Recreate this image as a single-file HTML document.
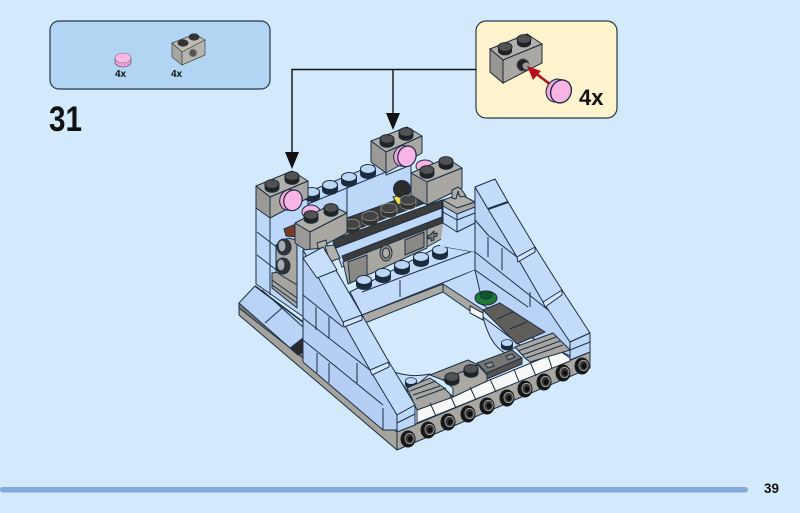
<!DOCTYPE html>
<html>
<head>
<meta charset="utf-8">
<style>
html,body{margin:0;padding:0;background:#d3eafc;}
svg{display:block;}
text{font-family:"Liberation Sans",sans-serif;font-weight:bold;fill:#111;}
</style>
</head>
<body>
<svg width="800" height="513" viewBox="0 0 800 513" xmlns="http://www.w3.org/2000/svg">
<defs>
<g id="sd"><path d="M-7,0v4a7,4.4 0 0 0 14,0v-4z" fill="#222"/><ellipse cx="0" cy="0" rx="7" ry="4.4" fill="#525252" stroke="#1b2530" stroke-width="1"/></g>
<g id="sb"><path d="M-7.5,0v5a7.5,4.5 0 0 0 15,0v-5z" fill="#1c2b3e"/><ellipse cx="0" cy="0" rx="7.5" ry="4.5" fill="#bcd6f6" stroke="#1c2b3e" stroke-width="1"/></g>
<g id="sg"><path d="M-8,0v5a8,4.8 0 0 0 16,0v-5z" fill="#333" stroke="#9a978f" stroke-width=".6"/><ellipse cx="0" cy="0" rx="8" ry="4.8" fill="#444" stroke="#a5a29a" stroke-width=".6"/></g>
<g id="sk"><ellipse cx="0" cy="0" rx="7.5" ry="8.5" fill="#161616"/><ellipse cx="1.5" cy="-.5" rx="4.6" ry="5.2" fill="#3a3a3a" stroke="#aaa" stroke-width=".8"/><ellipse cx="2" cy="0" rx="2.3" ry="2.8" fill="#0c0c0c"/></g>
<g id="pk"><ellipse cx="-3" cy="1" rx="9" ry="10.5" fill="#f3a6dc" stroke="#1c2b3e" stroke-width="1"/><ellipse cx="1" cy="0" rx="9" ry="10.5" fill="#f8b4e5" stroke="#1c2b3e" stroke-width="1.2"/></g>
</defs>
<rect width="800" height="513" fill="#d3eafc"/>

<!-- top-left parts box -->
<rect x="50" y="21" width="220" height="68" rx="9" fill="#b1d5f3" stroke="#26384b" stroke-width="1.2"/>
<path d="M115,58v4a8,5 0 0 0 16,0v-4z" fill="#ee9fd6" stroke="#444" stroke-width=".6"/>
<ellipse cx="123" cy="58" rx="8" ry="5" fill="#f9b8e5" stroke="#777" stroke-width=".6"/>
<path d="M172,43L195,34L205,40L182,52z" fill="#bdbbb6" stroke="#444" stroke-width=".7"/>
<path d="M172,43L182,52V65L172,57z" fill="#a6a5a0" stroke="#444" stroke-width=".7"/>
<path d="M182,52L205,40V55L182,65z" fill="#b5b3ae" stroke="#444" stroke-width=".7"/>
<ellipse cx="183" cy="43" rx="5.5" ry="3.6" fill="#333"/><ellipse cx="194" cy="37" rx="5.5" ry="3.6" fill="#333"/>
<circle cx="193" cy="53" r="3.6" fill="#555" stroke="#777"/>
<text x="115" y="77" font-size="10">4x</text>
<text x="171" y="77" font-size="10">4x</text>

<text x="49" y="131" font-size="35" textLength="33" lengthAdjust="spacingAndGlyphs">31</text>

<!-- callout -->
<rect x="476" y="21" width="141" height="97" rx="10" fill="#fff4cd" stroke="#28384a" stroke-width="1.2"/>
<path d="M490,49L527,34L542,44L503,60z" fill="#b1b0ac" stroke="#1f2a36"/>
<path d="M490,49L503,60V83L490,72z" fill="#979693" stroke="#1f2a36"/>
<path d="M503,60L542,44V63L503,83z" fill="#a8a7a3" stroke="#1f2a36"/>
<use href="#sd" transform="translate(505,47)"/><use href="#sd" transform="translate(524,39)"/>
<circle cx="523" cy="65" r="6" fill="#222" stroke="#555"/><circle cx="526" cy="66" r="3.5" fill="#999"/>
<path d="M551,85L534,72" stroke="#b50f1e" stroke-width="2.6"/>
<path d="M527,66L541,71L533,80z" fill="#b50f1e"/>
<use href="#pk" transform="translate(560,91) rotate(25) scale(1.12)"/>
<text x="579" y="105" font-size="22">4x</text>

<!-- arrows -->
<path d="M476,69.5H292V155M393,69.5V116" fill="none" stroke="#111" stroke-width="1.4"/>
<path d="M285,152h14l-7,17z" fill="#111"/>
<path d="M386,113h14l-7,17z" fill="#111"/>

<g stroke="#1c2f45" stroke-width="1" stroke-linejoin="round">
<!-- base strips -->
<path d="M239,303L397,432V450L239,315z" fill="#a5a39c"/>
<path d="M239,303L303,352L303,358L239,308z" fill="#77756f"/>
<path d="M397,432L590,352V368L397,450z" fill="#a8a7a1"/>

<!-- ramps left -->
<path d="M239,303L255,286L303,322V338L290,348z" fill="#b9d3f6"/>
<path d="M265,323L282,308M262,290L303,327" fill="none"/>
<path d="M291,349L303,338V352L298,355z" fill="#2a2a2a"/>

<!-- left wall -->
<path d="M256,205L308,198V320L256,284z" fill="#bcd7f7"/>
<path d="M257,232L296,262M257,255L296,285M270,218V295" fill="none"/>
<path d="M255,286L303,322" fill="none" stroke-width="1.6"/>
<!-- technic panel -->
<path d="M272,273L290,270L297,282V308L272,288z" fill="#a6a49e"/>
<path d="M272,280L297,298M272,285L297,303" fill="none"/>
<path d="M276,245L288,238L297,240V285L276,272z" fill="#a9a7a2"/>
<path d="M284,229L296,224L298,237L286,236z" fill="#7c3a24"/>
<ellipse cx="284" cy="247" rx="7" ry="8" fill="#333"/><ellipse cx="282" cy="246" rx="4" ry="6" fill="#aaa"/>
<ellipse cx="283" cy="266" rx="7" ry="8" fill="#333"/><ellipse cx="281" cy="265" rx="4" ry="6" fill="#aaa"/>

<!-- back wall -->
<path d="M308,192L386,160V175L411,165V200L347,225L308,205z" fill="#bcd7f8"/>
<path d="M347,187V215M308,204L386,172" fill="none"/>
<use href="#sb" transform="translate(312,192)"/><use href="#sb" transform="translate(330,185)"/>
<use href="#sb" transform="translate(349,177)"/><use href="#sb" transform="translate(368,169)"/>

<!-- pink hidden -->
<ellipse cx="311" cy="212" rx="9" ry="7" fill="#f8b4e5"/>
<ellipse cx="425" cy="166" rx="9" ry="6" fill="#f8b4e5"/>

<!-- brick 2 -->
<path d="M371,141L407,127L422,136L386,152z" fill="#b0afaa"/>
<path d="M371,141L386,152V173L371,162z" fill="#9a9995"/>
<path d="M386,152L422,136V153L386,173z" fill="#a8a7a2"/>
<use href="#sd" transform="translate(387,139)"/><use href="#sd" transform="translate(406,132)"/>
<use href="#pk" transform="translate(406,156) rotate(20)"/>

<!-- center dark plate -->
<path d="M347,218L410,195L425,203L347,233z" fill="#3c3c3c"/>
<path d="M393,197Q396,202 398,205L408,200L403,194z" fill="#f3e23e"/>
<circle cx="402" cy="189" r="8.5" fill="#2b2b2b"/>
<use href="#sg" transform="translate(352,224)"/><use href="#sg" transform="translate(370,216)"/>
<use href="#sg" transform="translate(389,208)"/><use href="#sg" transform="translate(408,200)"/>

<!-- brick 3 -->
<path d="M411,173L447,158L462,168L427,182z" fill="#b0afaa"/>
<path d="M411,173L427,182V205L411,195z" fill="#9a9995"/>
<path d="M427,182L462,168V188L427,205z" fill="#a8a7a2"/>
<use href="#sd" transform="translate(427,170)"/><use href="#sd" transform="translate(446,161)"/>

<!-- blue band + dark bars -->
<path d="M333,243L442,200V228L342,267z" fill="#bcd7f8"/>
<path d="M333,240L442,200V208L336,248z" fill="#3c3c3c"/>
<path d="M342,256L442,217V225L345,264z" fill="#3c3c3c"/>
<!-- lower gray block -->
<path d="M343,262L427,229V248L348,284z" fill="#a8a7a2"/>
<path d="M348,262L367,255V276L350,283z" fill="#8a8985"/>
<path d="M405,240L424,232V247L405,255z" fill="#8a8985"/>
<path d="M427,229L445,222V237L427,247z" fill="#aaa9a4"/>
<ellipse cx="386" cy="253" rx="6" ry="8" fill="#8d8c88" stroke="#333"/>
<ellipse cx="386" cy="253" rx="3.5" ry="5" fill="#b0afaa"/>
<path d="M431,234l3,-3v3l3,-1v3l-3,1v3l-3,1v-3l-3,1v-3z" fill="#777"/>

<!-- brick 4 -->
<path d="M295,223L330,205L347,213L310,232z" fill="#b0afaa"/>
<path d="M295,223L310,232V253L295,243z" fill="#9a9995"/>
<path d="M310,232L347,213V233L310,253z" fill="#a8a7a2"/>
<use href="#sd" transform="translate(311,215)"/><use href="#sd" transform="translate(331,208)"/>
<path d="M317,243L326,240L328,250L319,252z" fill="#b0afaa"/>
<path d="M325,246L334,245L340,258L330,262z" fill="#b0afaa"/>

<!-- brick 1 -->
<path d="M256,186L292,171L308,181L270,197z" fill="#b0afaa"/>
<path d="M256,186L270,197V218L256,208z" fill="#9a9995"/>
<path d="M270,197L308,181V198L270,218z" fill="#a8a7a2"/>
<use href="#sd" transform="translate(272,184)"/><use href="#sd" transform="translate(292,176)"/>
<use href="#pk" transform="translate(292,200) rotate(20)"/>

<!-- floor with studs -->
<path d="M350,292L440,246L463,250L475,252V270L362,315z" fill="#c3dbfa"/>
<path d="M362,292L475,250" fill="none"/>
<path d="M400,280V297" fill="none"/>
<use href="#sb" transform="translate(364,280)"/><use href="#sb" transform="translate(383,273)"/>
<use href="#sb" transform="translate(402,265)"/><use href="#sb" transform="translate(421,257)"/>
<use href="#sb" transform="translate(440,250)"/>
<path d="M362,315L443,284V292L365,323z" fill="#aaa9a3"/>

<!-- blue area behind stack and under floor -->
<path d="M443,225L475,210V252L463,250L440,246z" fill="#c3dbfa" stroke="none"/>
<path d="M443,284L475,270L485,290L483,312z" fill="#c3dbfa" stroke="none"/>

<!-- small right stack -->
<path d="M443,200L443,223L457,232V208z" fill="#bcd7f8"/>
<path d="M457,208L475,202V223L457,232z" fill="#bcd7f8"/>
<path d="M443,212L457,220L475,213" fill="none"/>
<path d="M443,200L460,194L475,202L457,208z" fill="#b0afaa"/>
<path d="M443,200L457,208L475,202V207L457,214L443,206z" fill="#a8a7a2"/>
<path d="M452,198V190L458,187L462,190L466,196L460,197L458,191L456,199z" fill="#aaa9a3"/>

<!-- right wall inner -->
<path d="M475,187L570,342V356L530,337L483,305L475,270z" fill="#b9d3f6"/>
<path d="M475,252L557,317M475,270L528,307M475,220L488,235L517,257" fill="none"/>
<path d="M488,237V257M502,248V270M530,292V307" fill="none"/>
<!-- right wall top -->
<path d="M475,187L495,179L508,202L535,247L562,290L590,333L570,342L543,302L517,257L488,209z" fill="#c4dcfb"/>
<path d="M488,209L508,202" fill="none" stroke-width="2"/>
<path d="M517,257L535,247V252L518,262zM543,302L562,290V295L545,307z" fill="#d4e6fc"/>
<path d="M570,342L590,333V352L570,360z" fill="#bcd7f8"/>
<path d="M570,350L590,342" fill="none"/>

<!-- courtyard right edge -->
<path d="M443,284L483,310V320L443,292z" fill="#a8a7a2"/>
<path d="M470,306L483,313V320L470,313z" fill="#f6f6f4"/>
<path d="M483,317L520,345L505,353Q490,345 483,317z" fill="#c3dbfa"/>
<path d="M394,372Q412,378 430,374L408,392z" fill="#c3dbfa"/>

<!-- dark tiles -->
<path d="M483,310L500,303L545,332L517,344z" fill="#5f5e5a"/>
<path d="M497,319L513,312M510,329L527,322" fill="none"/>
<!-- green stud -->
<ellipse cx="486" cy="298" rx="11" ry="7" fill="#1f7a35"/>
<ellipse cx="486" cy="295" rx="6" ry="4" fill="#0e5a26"/>
<!-- blue stud corners -->
<use href="#sb" transform="translate(507,343) scale(.75)"/>
<use href="#sb" transform="translate(411,381) scale(.75)"/>

<!-- front band -->
<path d="M417,410L560,351L570,358V361L417,423z" fill="#f8f8f6"/>
<path d="M407,388L430,378L443,387L453,397L417,410z" fill="#a8a7a2"/>
<path d="M410,391L436,381M413,395L440,386M416,399L446,388" fill="none"/>
<path d="M515,347L553,333L563,343L570,350L530,362L525,358z" fill="#a8a7a2"/>
<path d="M518,351L556,337M522,355L560,341M526,358L563,345" fill="none"/>
<path d="M430,375L468,360L478,365L443,380z" fill="#9a9995"/>
<path d="M443,380L478,365L487,375V381L453,397V388z" fill="#aaa9a3"/>
<use href="#sd" transform="translate(452,377)"/><use href="#sd" transform="translate(471,369)"/>
<path d="M477,363L512,350L522,358L487,373z" fill="#777672"/>
<path d="M487,373L522,358V364L487,379z" fill="#555450"/>
<path d="M485,364L492,362L494,366L488,368zM506,356L512,354L515,357L508,360z" fill="#8d8c88"/>
<path d="M430,403L436,416M450,395L456,408M470,387L476,400M490,379L496,392M514,369L519,382M530,362L536,376M548,356L552,368" fill="none"/>

<!-- front-left slope wall -->
<path d="M303,250L397,415V430L383,430L303,362z" fill="#b5cff4"/>
<path d="M303,295L343,327M303,318L370,370M303,340L383,405" fill="none"/>
<path d="M316,307V330M329,317V338M357,363V383M317,353V373M329,363V383M383,408V430" fill="none"/>
<path d="M303,250L323,248L362,315L389,362L415,405L397,415L370,370L343,322z" fill="#c4dcfb"/>
<path d="M343,322L362,315V320L344,327zM370,370L389,362V367L372,375z" fill="#d4e6fc"/>
<path d="M303,258L323,247L337,270L317,278z" fill="#c8dffb"/>
<path d="M397,415L415,405V425L397,432z" fill="#bcd7f8"/>
<path d="M397,423L415,414" fill="none"/>
</g>

<!-- side studs -->
<use href="#sk" x="408" y="439"/><use href="#sk" x="428" y="430"/>
<use href="#sk" x="448" y="422"/><use href="#sk" x="468" y="414"/>
<use href="#sk" x="487" y="406"/><use href="#sk" x="507" y="398"/>
<use href="#sk" x="525" y="389"/><use href="#sk" x="544" y="382"/>
<use href="#sk" x="563" y="373"/><use href="#sk" x="582" y="366"/>

<!-- footer -->
<rect x="0" y="487" width="748" height="5.5" rx="2.7" fill="#86a8dd"/>
<text x="764" y="493" font-size="13.5">39</text>
</svg>
</body>
</html>
